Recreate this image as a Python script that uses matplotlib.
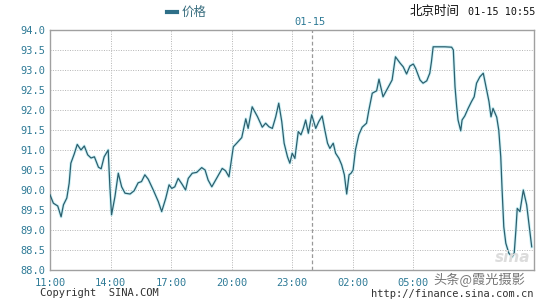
import matplotlib
matplotlib.use("Agg")
import matplotlib.pyplot as plt
from datetime import datetime, timedelta

# ---- data ----
times = ["11:00","11:10","11:23","11:33","11:40","11:50","11:57","12:02","12:12","12:21",
         "12:32","12:42","12:52","13:02","13:12","13:24","13:32","13:41","13:53","13:58",
         "14:03","14:13","14:23","14:33","14:43","14:58","15:10","15:22","15:32","15:42",
         "15:52","16:07","16:22","16:32","16:44","16:54","17:02","17:11","17:21","17:33",
         "17:43","17:51","18:03","18:16","18:31","18:41","18:50","19:01","19:15","19:32",
         "19:42","19:52","19:58","20:05","20:15","20:30","20:42","20:49","21:01","21:17",
         "21:31","21:41","21:51","22:01","22:11","22:20","22:29","22:36","22:46","22:53",
         "23:00","23:08","23:18","23:26","23:33","23:40","23:48","23:58","00:10","00:19",
         "00:29","00:37","00:45","00:52","01:02","01:09","01:19","01:27","01:35","01:42",
         "01:49","01:55","02:01","02:08","02:18","02:28","02:41","02:48","02:58","03:11",
         "03:18","03:30","03:41","03:57","04:07","04:20","04:30","04:40","04:50","05:00",
         "05:07","05:20","05:29","05:40","05:49","05:54","05:59","06:34","06:54","06:59",
         "07:04","07:09","07:13","07:21","07:25","07:33","07:43","07:53","08:01","08:08",
         "08:18","08:28","08:38","08:45","08:51","08:57","09:08","09:14","09:20","09:24",
         "09:29","09:35","09:44","09:54","10:00","10:05","10:09","10:17","10:27","10:37",
         "10:52"]
prices = [89.88,89.67,89.60,89.33,89.63,89.80,90.17,90.67,90.90,91.14,
          91.00,91.10,90.88,90.80,90.83,90.57,90.53,90.83,91.00,90.08,
          89.38,89.83,90.42,90.08,89.92,89.90,89.98,90.18,90.21,90.38,
          90.27,90.00,89.71,89.46,89.79,90.13,90.04,90.08,90.29,90.14,
          90.00,90.29,90.42,90.44,90.56,90.50,90.25,90.08,90.29,90.54,
          90.48,90.33,90.67,91.08,91.17,91.31,91.78,91.54,92.08,91.83,
          91.57,91.67,91.58,91.54,91.83,92.17,91.71,91.17,90.83,90.67,
          90.92,90.79,91.46,91.38,91.54,91.75,91.42,91.88,91.54,91.71,
          91.85,91.50,91.17,91.04,91.17,90.92,90.79,90.63,90.38,89.90,
          90.38,90.42,90.50,91.00,91.38,91.57,91.67,92.00,92.42,92.48,
          92.77,92.33,92.50,92.75,93.33,93.18,93.08,92.90,93.10,93.15,
          93.04,92.75,92.67,92.73,92.92,93.21,93.58,93.58,93.57,93.50,
          92.58,92.08,91.75,91.48,91.75,91.85,92.04,92.21,92.33,92.67,
          92.83,92.92,92.50,92.21,91.83,92.04,91.82,91.50,90.83,90.00,
          89.08,88.67,88.42,88.33,88.42,89.00,89.54,89.46,90.00,89.63,
          88.58]
x_tick_labels = ["11:00","14:00","17:00","20:00","23:00","02:00","05:00"]
y_ticks = [88.0,88.5,89.0,89.5,90.0,90.5,91.0,91.5,92.0,92.5,93.0,93.5,94.0]
series_name = "价格"
date_label = "01-15"
header_left = "北京时间"
header_right = "01-15 10:55"

# ---- build datetimes ----
start = datetime(2019, 1, 14, 11, 0)
def to_dt(s):
    h, m = map(int, s.split(":"))
    d = start.replace(hour=h, minute=m)
    if d < start:
        d += timedelta(days=1)
    return d
xs = [to_dt(t) for t in times]
tick_dts = [to_dt(t) for t in x_tick_labels]
midnight = datetime(2019, 1, 15, 0, 0)

teal = "#2e7a96"
line_c = "#2c5f6e"
grid_c = "#b4b4b4"
cjk = ["Noto Sans CJK SC", "DejaVu Sans"]
mono = "DejaVu Sans Mono"

fig = plt.figure(figsize=(5.4, 3.0), dpi=100)
ax = fig.add_axes([50/540, 30/300, 484.4/540, 240/300])
ax.plot(xs, prices, color="#cdf2f7", lw=2.2, solid_joinstyle="round", zorder=2)
ax.plot(xs, prices, color=line_c, lw=0.9, solid_joinstyle="round", zorder=3)

ax.set_xlim(start, start + timedelta(hours=24))
ax.set_ylim(88.0, 94.0)
ax.set_yticks(y_ticks)
ax.set_yticklabels([f"{v:.1f}" for v in y_ticks])
ax.set_xticks(tick_dts)
ax.set_xticklabels(x_tick_labels)

for lab in ax.get_xticklabels() + ax.get_yticklabels():
    lab.set_fontfamily(mono)
    lab.set_fontsize(7.5)
    lab.set_color(teal)
ax.tick_params(axis="both", length=0, pad=3)
ax.tick_params(axis="x", pad=6)

ax.grid(True, color=grid_c, linestyle=(0, (1, 1.5)), lw=0.7)
ax.axvline(midnight, color="#999999", linestyle=(0, (3, 2)), lw=0.9, zorder=1)
for s in ax.spines.values():
    s.set_color("#a0a0a0")
    s.set_linewidth(1.0)

# header texts
fig.text(310/540, 1 - 22/300, date_label, fontfamily=mono, fontsize=7.5,
         color=teal, ha="center", va="center")
fig.lines.append(plt.Line2D([167/540, 177/540], [1 - 12/300, 1 - 12/300],
                            transform=fig.transFigure, color="#2e6f88", lw=3))
fig.text(182/540, 1 - 12/300, series_name, fontfamily=cjk,
         fontsize=9, color="#3a6f80", ha="left", va="center")
fig.text(535/540, 1 - 12/300, header_right, fontfamily=mono, fontsize=7.3,
         color="#111111", ha="right", va="center")
fig.text(460/540, 1 - 11/300, header_left, fontfamily=cjk,
         fontsize=9, color="#111111", ha="right", va="center")

# footer texts
fig.text(40/540, 1 - 293/300, "Copyright  SINA.COM", fontfamily=mono, fontsize=7.5,
         color="#333333", ha="left", va="center")
fig.text(533/540, 1 - 294/300, "http://finance.sina.com.cn", fontfamily=mono, fontsize=7.5,
         color="#333333", ha="right", va="center")
fig.text(433/540, 1 - 280/300, "头条@霞光摄影", fontfamily=cjk,
         fontsize=9.5, color="#555555", alpha=0.8, ha="left", va="center")
fig.text(530/540, 1 - 258/300, "sina", fontfamily="DejaVu Sans", fontsize=11,
         fontstyle="italic", fontweight="bold", color="#dcdcdc", ha="right", va="center")

fig.savefig("out.png", dpi=100)
